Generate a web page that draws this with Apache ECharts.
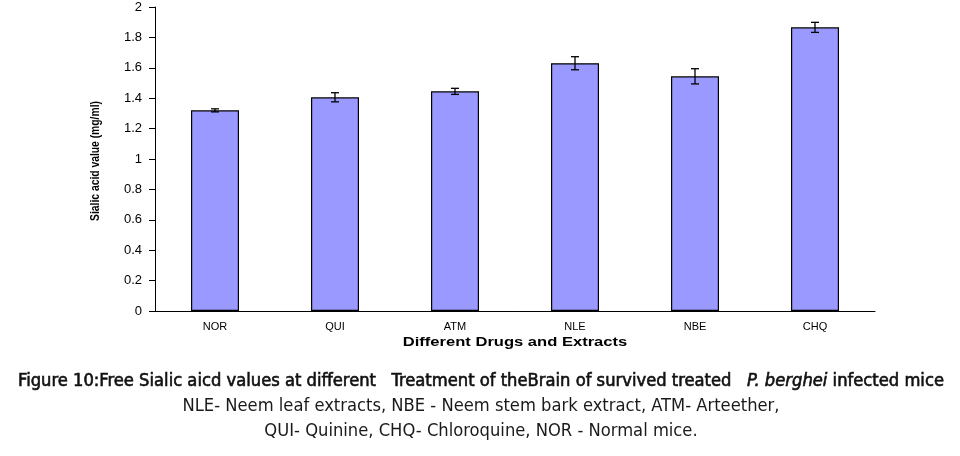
<!DOCTYPE html>
<html><head><meta charset="utf-8">
<script src="https://cdn.jsdelivr.net/npm/echarts@6/dist/echarts.min.js"></script>
<style>html,body{margin:0;padding:0;background:#fff}#c{width:960px;height:456px}</style>
</head><body><div id="c"></div>
<script>
var categories = ['NOR', 'QUI', 'ATM', 'NLE', 'NBE', 'CHQ'];
var values = [1.32, 1.406, 1.445, 1.63, 1.544, 1.866];
var errors = [0.01, 0.03, 0.02, 0.043, 0.05, 0.033];
var yTicks = [0, 0.2, 0.4, 0.6, 0.8, 1, 1.2, 1.4, 1.6, 1.8, 2];
var xTitle = 'Different Drugs and Extracts';
var yTitle = 'Sialic acid value (mg/ml)';

var chart = echarts.init(document.getElementById('c'));
var errData = categories.map(function (c, i) { return [i, values[i] - errors[i], values[i] + errors[i]]; });
var capFont = 'DejaVu Sans Condensed';
chart.setOption({
  animation: false,
  grid: { left: 155, right: 85, top: 7, bottom: 145 },
  xAxis: {
    type: 'category', data: categories,
    axisLine: { lineStyle: { color: '#000', width: 1 } },
    axisTick: { length: 5, lineStyle: { color: '#000' } },
    axisLabel: { color: '#000', fontFamily: 'Liberation Sans', fontSize: 11, margin: 10 }
  },
  yAxis: {
    type: 'value', min: 0, max: 2, interval: 0.2,
    axisLine: { show: true, lineStyle: { color: '#000', width: 1 } },
    axisTick: { show: true, length: 6, lineStyle: { color: '#000' } },
    splitLine: { show: false },
    axisLabel: { color: '#000', fontFamily: 'Liberation Sans', fontSize: 13, margin: 13,
      formatter: function (v) { var t = yTicks.find(function (x) { return Math.abs(x - v) < 1e-6; }); return t === undefined ? '' : String(t); } }
  },
  series: [{
    type: 'bar', data: values, barWidth: '40%',
    itemStyle: { color: '#9999ff', borderColor: '#000', borderWidth: 1.2 }
  }, {
    type: 'custom', data: errData,
    renderItem: function (params, api) {
      var x = api.value(0);
      var lo = api.coord([x, api.value(1)]);
      var hi = api.coord([x, api.value(2)]);
      var hw = 4;
      var st = { stroke: '#000', lineWidth: 1.3 };
      return { type: 'group', children: [
        { type: 'line', shape: { x1: lo[0], y1: lo[1], x2: hi[0], y2: hi[1] }, style: st },
        { type: 'line', shape: { x1: lo[0] - hw, y1: lo[1], x2: lo[0] + hw, y2: lo[1] }, style: st },
        { type: 'line', shape: { x1: hi[0] - hw, y1: hi[1], x2: hi[0] + hw, y2: hi[1] }, style: st }
      ]};
    },
    z: 5
  }],
  graphic: [
    { type: 'text', x: 515, y: 343, scaleX: 1.38, style: {
      text: xTitle, fontFamily: 'Liberation Sans', fontSize: 12, fontWeight: 'bold', fill: '#000',
      align: 'center', verticalAlign: 'middle' } },
    { type: 'text', x: 96, y: 161, rotation: Math.PI / 2, scaleX: 0.86, style: {
      text: yTitle, fontFamily: 'Liberation Sans', fontSize: 12, fontWeight: 'bold', fill: '#000',
      align: 'center', verticalAlign: 'middle' } },
    { type: 'text', x: 481, y: 381, style: {
      align: 'center', verticalAlign: 'middle',
      text: '{a|Figure 10:Free Sialic aicd values at different   Treatment of theBrain of survived treated   }{i|P. berghei}{a| infected mice}',
      rich: {
        a: { fontFamily: capFont, fontSize: 18.2, fill: '#111', stroke: '#111', lineWidth: 0.6 },
        i: { fontFamily: capFont, fontSize: 18.2, fontStyle: 'italic', fill: '#111', stroke: '#111', lineWidth: 0.6 }
      } } },
    { type: 'text', x: 481, y: 406, style: {
      align: 'center', verticalAlign: 'middle',
      text: 'NLE- Neem leaf extracts, NBE - Neem stem bark extract, ATM- Arteether,',
      fontFamily: capFont, fontSize: 18.2, fill: '#1a1a1a' } },
    { type: 'text', x: 481, y: 431, style: {
      align: 'center', verticalAlign: 'middle',
      text: 'QUI- Quinine, CHQ- Chloroquine, NOR - Normal mice.',
      fontFamily: capFont, fontSize: 18.2, fill: '#1a1a1a' } }
  ]
});
</script></body></html>
